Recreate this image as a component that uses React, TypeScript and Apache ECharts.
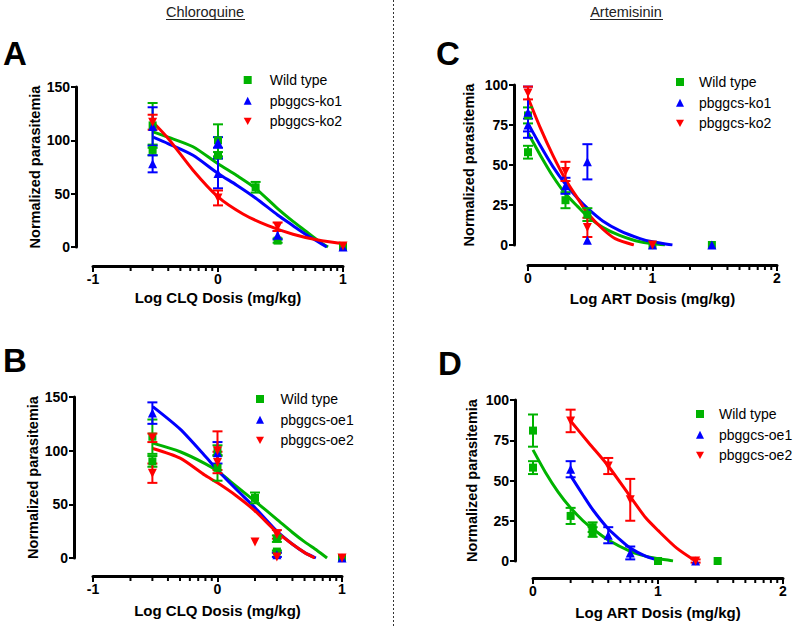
import React, { useEffect, useRef } from 'react';
import * as echarts from 'echarts';

const FONT = '"Liberation Sans", Arial, Helvetica, sans-serif';
const GREEN = '#00b300';
const BLUE = '#0000ff';
const RED = '#ff0000';

// ---- Data: [log dose, mean, SEM] ----
// Panel A (Chloroquine, knock-outs)
const aWildType = [[-0.523, 114, 21], [-0.523, 91, 5], [0, 100, 15], [0, 86, 3], [0.301, 56, 5], [0.477, 6, 2], [1, 0, 0]];
const aKo1 = [[-0.523, 113, 18], [-0.523, 78, 8], [0, 98, 5], [0, 69, 14], [0.477, 11, 4], [1, 0, 0]];
const aKo2 = [[-0.523, 117, 7], [0, 46, 7], [0.477, 19, 4], [1, 1, 0]];
// Panel B (Chloroquine, over-expressors)
const bWildType = [[-0.523, 113, 16], [-0.523, 90, 5], [0, 100, 5], [0, 84, 12], [0.301, 56, 5], [0.477, 18, 3], [0.477, 6, 1], [1, 0, 0]];
const bOe1 = [[-0.523, 135, 10], [0, 98, 10], [0.477, 3, 2], [1, 0, 0]];
const bOe2 = [[-0.523, 112, 4], [-0.523, 79, 9], [0, 100, 18], [0, 89, 10], [0.301, 15, 0], [0.477, 22, 4], [0.477, 1, 0], [1, 0, 0]];
// Panel C (Artemisinin, knock-outs)
const cWildType = [[0, 81, 5], [0, 58, 4], [0.301, 28, 5], [0.477, 19, 4], [1, 0, 0], [1.477, 0, 0]];
const cKo1 = [[0, 83, 16], [0, 75, 4], [0.301, 37, 5], [0.477, 52, 11], [0.477, 3, 0], [1, 0, 0], [1.477, 0, 0]];
const cKo2 = [[0, 95, 4], [0.301, 46, 6], [0.477, 11, 6], [1, 0, 0]];
// Panel D (Artemisinin, over-expressors)
const dWildType = [[0, 81, 10], [0, 58, 4], [0.301, 28, 5], [0.477, 21, 3], [0.477, 18, 3], [1, 0, 0], [1.477, 0, 0]];
const dOe1 = [[0.301, 57, 5], [0.602, 16, 5], [0.778, 5, 4], [1.301, 0, 0]];
const dOe2 = [[0.301, 87, 7], [0.602, 59, 5], [0.778, 38, 13], [1.301, 0, 1]];

// ---- Fitted curves: [log dose, value] ----
const aWildTypeFit = [[-0.52, 108], [-0.4, 103], [-0.2, 94], [0, 78], [0.15, 67], [0.3, 55], [0.477, 36], [0.6, 24], [0.7, 15], [0.8, 6], [0.88, 0]];
const aKo1Fit = [[-0.52, 103], [-0.4, 97], [-0.2, 86], [0, 69], [0.15, 58], [0.3, 46], [0.477, 30], [0.6, 20], [0.7, 12], [0.8, 5], [0.87, 0]];
const aKo2Fit = [[-0.52, 117], [-0.4, 102], [-0.2, 72], [0, 47], [0.2, 31], [0.4, 20], [0.6, 12], [0.8, 6.5], [1, 3]];
const bWildTypeFit = [[-0.52, 107], [-0.3, 99], [-0.1, 88], [0, 81], [0.15, 67], [0.3, 53], [0.477, 36], [0.6, 24], [0.7, 15], [0.8, 7], [0.88, 0]];
const bOe1Fit = [[-0.52, 141], [-0.3, 120], [-0.1, 95], [0, 82], [0.15, 64], [0.3, 47], [0.477, 25], [0.6, 13], [0.7, 5], [0.79, 0]];
const bOe2Fit = [[-0.52, 102], [-0.3, 93], [-0.1, 77], [0, 70], [0.15, 58], [0.3, 44], [0.477, 24], [0.6, 13], [0.7, 5], [0.78, 0]];
const cWildTypeFit = [[0, 70], [0.1, 56], [0.2, 43], [0.301, 32], [0.4, 24], [0.477, 18], [0.6, 11], [0.736, 6], [0.9, 2], [1.1, 0]];
const cKo1Fit = [[0, 76], [0.1, 62], [0.2, 49], [0.301, 38], [0.4, 29], [0.477, 23], [0.6, 15], [0.736, 9], [0.9, 4], [1, 2], [1.16, 0]];
const cKo2Fit = [[0, 92], [0.1, 73], [0.2, 56], [0.301, 41], [0.4, 29], [0.477, 20], [0.6, 10], [0.7, 4], [0.85, 0]];
const dWildTypeFit = [[0, 69], [0.1, 55], [0.2, 43], [0.301, 33], [0.4, 25], [0.477, 20], [0.602, 13], [0.778, 6], [0.9, 3], [1, 1.5], [1.12, 0]];
const dOe1Fit = [[0.301, 53], [0.4, 41], [0.477, 32], [0.602, 20], [0.7, 13], [0.778, 8], [0.9, 3], [1.02, 0]];
const dOe2Fit = [[0.301, 87], [0.45, 73], [0.602, 59], [0.778, 40], [0.9, 27], [1, 19], [1.15, 8], [1.3, 0]];

// ---- Axis tick positions ----
const clqMinorTicks = [-0.699, -0.523, -0.398, -0.301, -0.222, -0.155, -0.097, -0.046, 0.301, 0.477, 0.602, 0.699, 0.778, 0.845, 0.903, 0.954];
const artMinorTicks = [0.301, 0.477, 0.602, 0.699, 0.778, 0.845, 0.903, 0.954, 1.301, 1.477, 1.602, 1.699, 1.778, 1.845, 1.903, 1.954];

const koNames = ['Wild type', 'pbggcs-ko1', 'pbggcs-ko2'];
const oeNames = ['Wild type', 'pbggcs-oe1', 'pbggcs-oe2'];
const colors = [GREEN, BLUE, RED];
const symbols = ['rect', 'triangle', 'path://M0,0L10,0L5,9Z'];
const symbolSizes = [8, 9, 9];

const panels = [
  { grid: { left: 93, top: 87, width: 250, height: 160 }, xOff: 19, yOff: 17, xMin: -1, xMax: 1, yMax: 150, yInt: 50,
    xName: 'Log CLQ Dosis (mg/kg)', xGap: 24, yGap: 33, names: koNames, pts: [aWildType, aKo1, aKo2], fits: [aWildTypeFit, aKo1Fit, aKo2Fit],
    minor: clqMinorTicks, legend: { left: 243.7, top: 73, pad: 13 } },
  { grid: { left: 93, top: 397, width: 249, height: 161 }, xOff: 18, yOff: 19, xMin: -1, xMax: 1, yMax: 150, yInt: 50,
    xName: 'Log CLQ Dosis (mg/kg)', xGap: 27, yGap: 33, names: oeNames, pts: [bWildType, bOe1, bOe2], fits: [bWildTypeFit, bOe1Fit, bOe2Fit],
    minor: clqMinorTicks, legend: { left: 256, top: 392, pad: 11.5 } },
  { grid: { left: 528, top: 85, width: 249, height: 160 }, xOff: 20, yOff: 14, xMin: 0, xMax: 2, yMax: 100, yInt: 25,
    xName: 'Log ART Dosis (mg/kg)', xGap: 26, yGap: 38, names: koNames, pts: [cWildType, cKo1, cKo2], fits: [cWildTypeFit, cKo1Fit, cKo2Fit],
    minor: artMinorTicks, legend: { left: 676, top: 75, pad: 10 } },
  { grid: { left: 533, top: 400, width: 250, height: 161 }, xOff: 17, yOff: 18, xMin: 0, xMax: 2, yMax: 100, yInt: 25,
    xName: 'Log ART Dosis (mg/kg)', xGap: 27, yGap: 36, names: oeNames, pts: [dWildType, dOe1, dOe2], fits: [dWildTypeFit, dOe1Fit, dOe2Fit],
    minor: artMinorTicks, legend: { left: 696, top: 407, pad: 10 } },
];

function buildOption() {
  const grid: any[] = [];
  const xAxis: any[] = [];
  const yAxis: any[] = [];
  const series: any[] = [];
  const legend: any[] = [];
  const boldLabel = { fontFamily: FONT, fontWeight: 'bold', fontSize: 14, color: '#000' };

  panels.forEach((p, i) => {
    grid.push({ ...p.grid, containLabel: false });
    xAxis.push({
      gridIndex: i, type: 'value', min: p.xMin, max: p.xMax, interval: 1, offset: p.xOff, position: 'bottom',
      axisLine: { show: true, onZero: false, lineStyle: { color: '#000', width: 3 } },
      axisTick: { show: true, length: 6, lineStyle: { color: '#000', width: 2 } },
      axisLabel: { ...boldLabel, margin: 6 },
      splitLine: { show: false },
      name: p.xName, nameLocation: 'middle', nameGap: p.xGap,
      nameTextStyle: { fontFamily: FONT, fontWeight: 'bold', fontSize: 15, color: '#000' },
    });
    yAxis.push({
      gridIndex: i, type: 'value', min: 0, max: p.yMax, interval: p.yInt, offset: p.yOff, position: 'left',
      axisLine: { show: true, onZero: false, lineStyle: { color: '#000', width: 3 } },
      axisTick: { show: true, length: 5, lineStyle: { color: '#000', width: 2 } },
      axisLabel: { ...boldLabel, margin: 6 },
      splitLine: { show: false },
      name: 'Normalized parasitemia', nameLocation: 'middle', nameGap: p.yGap, nameRotate: 90,
      nameTextStyle: { fontFamily: FONT, fontWeight: 'bold', fontSize: 14.5, color: '#000' },
    });

    // minor log ticks on the x axis
    const off = p.xOff;
    series.push({
      type: 'custom', name: 'minor-ticks-' + i, xAxisIndex: i, yAxisIndex: i, silent: true, z: 1,
      data: p.minor.map((v) => [v, 0]),
      encode: { x: 0, y: 1 },
      renderItem: (params: any, api: any) => {
        const c = api.coord([api.value(0), 0]);
        return { type: 'line', shape: { x1: c[0], y1: c[1] + off, x2: c[0], y2: c[1] + off + 5 }, style: { stroke: '#000', lineWidth: 2 } };
      },
    });

    p.names.forEach((name, k) => {
      const color = colors[k];
      // fitted curve
      series.push({
        type: 'line', name: name + ' fit ' + i, xAxisIndex: i, yAxisIndex: i, data: p.fits[k],
        smooth: 0.25, symbol: 'none', showSymbol: false, z: 2, silent: true,
        lineStyle: { color, width: 3 }, itemStyle: { color },
      });
      // error bars
      series.push({
        type: 'custom', name: name + ' sem ' + i, xAxisIndex: i, yAxisIndex: i, data: p.pts[k], z: 3, silent: true,
        encode: { x: 0, y: 1 },
        renderItem: (params: any, api: any) => {
          const x = api.value(0), v = api.value(1), e = api.value(2);
          if (!e) return { type: 'group', children: [] };
          const t = api.coord([x, v + e]);
          const b = api.coord([x, v - e]);
          const hw = 5;
          const st = { stroke: color, lineWidth: 2 };
          return {
            type: 'group', children: [
              { type: 'line', shape: { x1: t[0], y1: t[1], x2: b[0], y2: b[1] }, style: st },
              { type: 'line', shape: { x1: t[0] - hw, y1: t[1], x2: t[0] + hw, y2: t[1] }, style: st },
              { type: 'line', shape: { x1: b[0] - hw, y1: b[1], x2: b[0] + hw, y2: b[1] }, style: st },
            ],
          };
        },
      });
    });
    p.names.forEach((name, k) => {
      series.push({
        type: 'scatter', name, xAxisIndex: i, yAxisIndex: i, data: p.pts[k].map((d) => [d[0], d[1]]),
        symbol: symbols[k], symbolSize: symbolSizes[k], z: 4, clip: false, silent: true,
        itemStyle: { color: colors[k], opacity: 1 },
      });
    });

    legend.push({
      data: p.names, orient: 'vertical', left: p.legend.left, top: p.legend.top, padding: 0,
      itemWidth: 8, itemHeight: 8, itemGap: 6.7, selectedMode: false,
      textStyle: { fontFamily: FONT, fontSize: 14, color: '#000', lineHeight: 14, padding: [0, 0, 0, p.legend.pad] },
    });
  });

  // scatters first so that legend icons are taken from them
  const scatters = series.filter((s) => s.type === 'scatter');
  const others = series.filter((s) => s.type !== 'scatter');

  const letter = (t: string, x: number, y: number) => ({
    type: 'text', x, y, silent: true,
    style: { text: t, fill: '#000', font: 'bold 33px ' + FONT, textAlign: 'left', textVerticalAlign: 'middle', align: 'left', verticalAlign: 'middle' },
  });
  const title = (t: string, x: number) => ({
    type: 'text', x, y: 12, silent: true,
    style: { text: t, fill: '#222', font: '14.5px ' + FONT, textAlign: 'center', textVerticalAlign: 'middle', align: 'center', verticalAlign: 'middle' },
  });

  return {
    animation: false,
    backgroundColor: '#fff',
    grid, xAxis, yAxis, legend,
    series: [...scatters, ...others],
    graphic: [
      title('Chloroquine', 205),
      { type: 'line', silent: true, shape: { x1: 166, y1: 19.5, x2: 245, y2: 19.5 }, style: { stroke: '#222', lineWidth: 1 } },
      title('Artemisinin', 626),
      { type: 'line', silent: true, shape: { x1: 590, y1: 19.5, x2: 663, y2: 19.5 }, style: { stroke: '#222', lineWidth: 1 } },
      { type: 'line', silent: true, shape: { x1: 393.5, y1: 0, x2: 393.5, y2: 626 }, style: { stroke: '#333', lineWidth: 1, lineDash: [2, 2] } },
      letter('A', 3, 53),
      letter('B', 3, 360),
      letter('C', 436, 53),
      letter('D', 438, 363),
    ],
  };
}

export default function App() {
  const ref = useRef<HTMLDivElement>(null);
  useEffect(() => {
    if (!ref.current) return;
    const chart = echarts.init(ref.current, null, { renderer: 'svg' });
    chart.setOption(buildOption() as any);
    return () => chart.dispose();
  }, []);
  return <div ref={ref} style={{ position: 'fixed', left: 0, top: 0, width: 798, height: 626, background: '#fff' }} />;
}
